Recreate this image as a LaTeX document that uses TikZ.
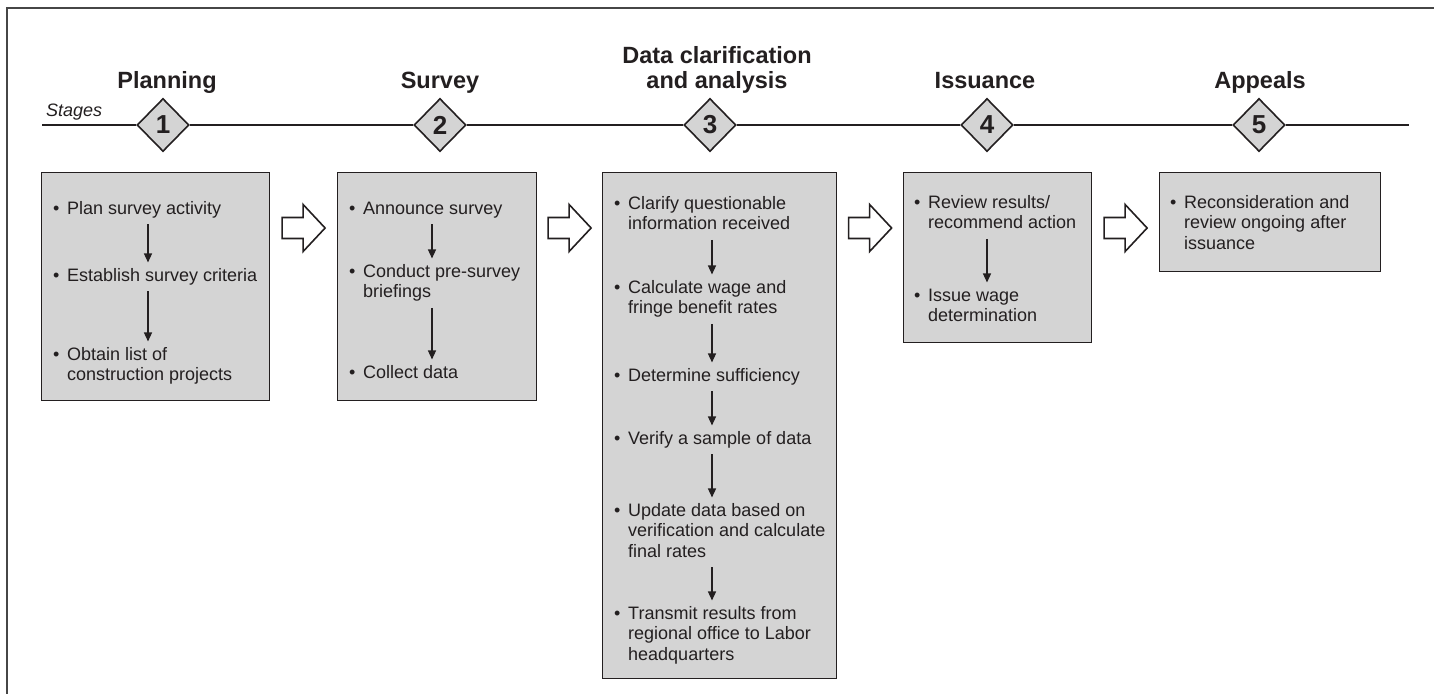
\documentclass[tikz,border=0pt]{standalone}
\usepackage{fontspec}
\setmainfont{Liberation Sans}
\usetikzlibrary{arrows.meta,shapes.geometric,calc}
\definecolor{boxgray}{RGB}{212,212,212}
\definecolor{ink}{RGB}{35,31,32}
\definecolor{framegray}{RGB}{70,70,70}
\newcommand{\itm}[1]{\makebox[14pt][l]{\textbullet}\begin{tabular}[t]{@{}l@{}}#1\end{tabular}}
\newcommand{\ttl}[1]{\begin{tabular}[b]{@{}c@{}}#1\end{tabular}}
\begin{document}
\begin{tikzpicture}[x=1pt,y=-1pt,
  every node/.style={text=ink},
  stagebox/.style={draw=ink, line width=1.2pt, fill=boxgray, anchor=north west, inner sep=0pt},
  item/.style={anchor=base west, inner sep=4pt, font=\fontsize{18}{20.5}\selectfont},
  title/.style={anchor=base, inner sep=0pt, font=\bfseries\fontsize{23.5}{25}\selectfont},
  stage/.style={diamond, draw=ink, line width=1.6pt, fill=boxgray, minimum width=52pt, minimum height=53pt, inner sep=0pt, font=\bfseries\fontsize{26}{26}\selectfont},
  timeline/.style={draw=ink, line width=1.7pt},
  dn/.style={draw=ink, line width=1.4pt, -{Triangle[length=9pt,width=8pt]}},
  blockarrow/.pic={\draw[ink, line width=1.6pt, fill=white, line join=miter]
      (-21.5,-10.5) -- (-0.5,-10.5) -- (-0.5,-23.5) -- (21.5,0) -- (-0.5,23.5) -- (-0.5,10.5) -- (-21.5,10.5) -- cycle;}
]
\useasboundingbox (0,0) rectangle (1434,694);
\draw[framegray, line width=1.5pt] (1434,8) -- (7,8) -- (7,694);

% timeline
\coordinate (tl0) at (42,125);
\coordinate (tl1) at (1409,125);
\node[stage] (d1) at (163,125) {1};
\node[stage] (d2) at (440,125) {2};
\node[stage] (d3) at (710,125) {3};
\node[stage] (d4) at (987,125) {4};
\node[stage] (d5) at (1259,125) {5};
\draw[timeline] (tl0) -- (d1);
\draw[timeline] (d1) -- (d2);
\draw[timeline] (d2) -- (d3);
\draw[timeline] (d3) -- (d4);
\draw[timeline] (d4) -- (d5);
\draw[timeline] (d5) -- (tl1);
\node[anchor=base west, inner sep=0pt, font=\itshape\fontsize{18}{20}\selectfont] (stg) at (46,116) {Stages};

% titles
\node[title] (t1) at (167,88) {Planning};
\node[title] (t2) at (440,88) {Survey};
\node[title] (t3) at (717,88) {\ttl{Data clarification\\and analysis}};
\node[title] (t4) at (985,88) {Issuance};
\node[title] (t5) at (1260,88) {Appeals};

% boxes
\node[stagebox, minimum width=228pt, minimum height=228pt] (box1) at (41,172) {};
\node[stagebox, minimum width=199pt, minimum height=228pt] (box2) at (337,172) {};
\node[stagebox, minimum width=234pt, minimum height=506pt] (box3) at (602,172) {};
\node[stagebox, minimum width=188pt, minimum height=170pt] (box4) at (903,172) {};
\node[stagebox, minimum width=221pt, minimum height=99pt] (box5) at (1159,172) {};

% block arrows between boxes
\pic at ($(box1.north east)!0.5!(box2.north west)+(0,56)$) {blockarrow};
\pic at ($(box2.north east)!0.5!(box3.north west)+(0,56)$) {blockarrow};
\pic at ($(box3.north east)!0.5!(box4.north west)+(0,56)$) {blockarrow};
\pic at ($(box4.north east)!0.5!(box5.north west)+(0,56)$) {blockarrow};

% box 1
\node[item] (i1a) at (49,214) {\itm{Plan survey activity}};
\node[item] (i1b) at (49,281) {\itm{Establish survey criteria}};
\node[item] (i1c) at (49,360) {\itm{Obtain list of\\construction projects}};
\coordinate (ax1) at (148,172);
\draw[dn] (i1a.south -| ax1) -- (i1b.north -| ax1);
\draw[dn] (i1b.south -| ax1) -- (i1c.north -| ax1);

% box 2
\node[item] (i2a) at (345,214) {\itm{Announce survey}};
\node[item] (i2b) at (345,277) {\itm{Conduct pre-survey\\briefings}};
\node[item] (i2c) at (345,378) {\itm{Collect data}};
\coordinate (ax2) at (432,172);
\draw[dn] (i2a.south -| ax2) -- (i2b.north -| ax2);
\draw[dn] (i2b.south -| ax2) -- (i2c.north -| ax2);

% box 3
\node[item] (i3a) at (610,209) {\itm{Clarify questionable\\information received}};
\node[item] (i3b) at (610,293) {\itm{Calculate wage and\\fringe benefit rates}};
\node[item] (i3c) at (610,381) {\itm{Determine sufficiency}};
\node[item] (i3d) at (610,444) {\itm{Verify a sample of data}};
\node[item] (i3e) at (610,516) {\itm{Update data based on\\verification and calculate\\final rates}};
\node[item] (i3f) at (610,619) {\itm{Transmit results from\\regional office to Labor\\headquarters}};
\coordinate (ax3) at (712,172);
\draw[dn] (i3a.south -| ax3) -- (i3b.north -| ax3);
\draw[dn] (i3b.south -| ax3) -- (i3c.north -| ax3);
\draw[dn] (i3c.south -| ax3) -- (i3d.north -| ax3);
\draw[dn] (i3d.south -| ax3) -- (i3e.north -| ax3);
\draw[dn] (i3e.south -| ax3) -- (i3f.north -| ax3);

% box 4
\node[item] (i4a) at (910,208) {\itm{Review results/\\recommend action}};
\node[item] (i4b) at (910,301) {\itm{Issue wage\\determination}};
\coordinate (ax4) at (987,172);
\draw[dn] (i4a.south -| ax4) -- (i4b.north -| ax4);

% box 5
\node[item] (i5a) at (1166,208) {\itm{Reconsideration and\\review ongoing after\\issuance}};
\end{tikzpicture}
\end{document}
